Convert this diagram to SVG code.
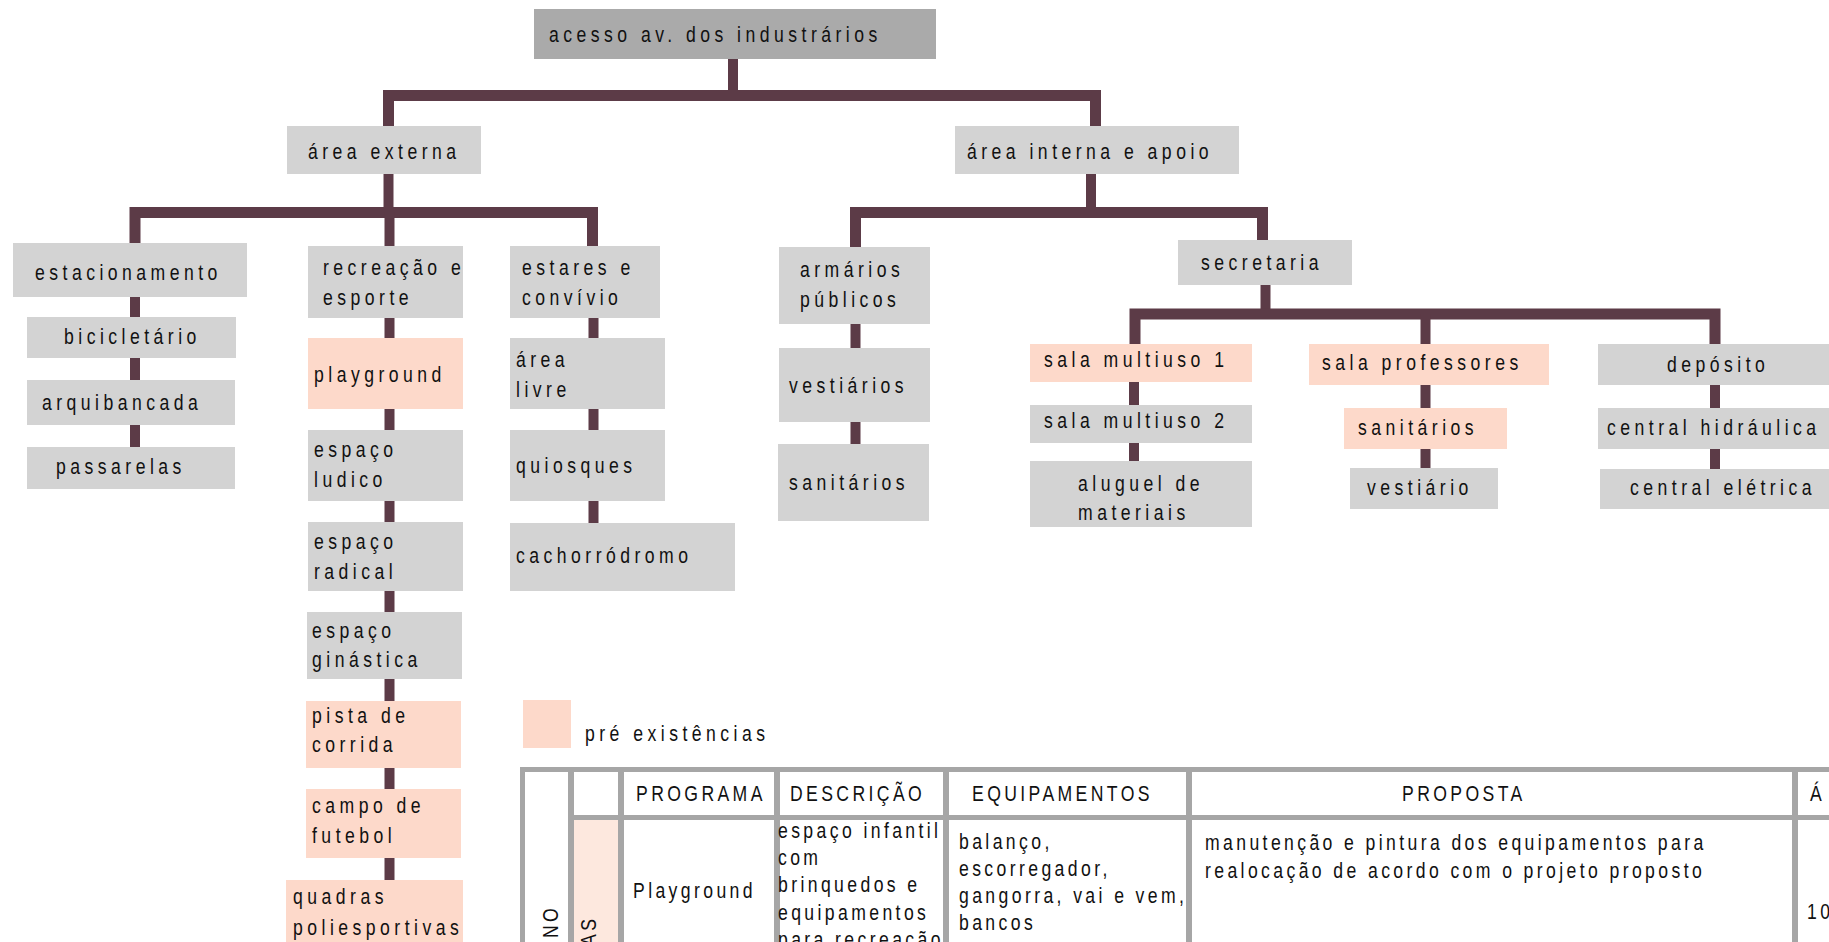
<svg xmlns="http://www.w3.org/2000/svg" width="1829" height="942" viewBox="0 0 1829 942">
<style>
text{font-family:"Liberation Sans",Arial,sans-serif;fill:#111}
.t{font-size:22px;letter-spacing:5.6px}
.s{font-size:22px;letter-spacing:4.25px}
.g{fill:#d3d3d3}
.p{fill:#fdd9ca}
.d{fill:#aaaaaa}
.c{stroke:#5c3b47;stroke-width:10;fill:none}
.b{stroke:#5c3b47;stroke-width:11;fill:none}
.tb{fill:#a6a6a6}
</style>
<rect width="1829" height="942" fill="#ffffff"/>
<g id="connectors">
<path class="c" d="M733,59 V92"/>
<path class="b" d="M388.5,126 V95.5 H1095.5 V126"/>
<path class="c" d="M388.5,174 V208"/>
<path class="b" d="M135,243 V212.5 H592.5 V246"/>
<path class="c" d="M389.5,212 V246"/>
<path class="c" d="M135,297 V317 M135,358 V380 M135,425 V447"/>
<path class="c" d="M389.5,318 V338 M389.5,409 V430 M389.5,501 V522 M389.5,591 V612 M389.5,679 V701 M389.5,768 V789 M389.5,858 V880"/>
<path class="c" d="M593.5,318 V338 M593.5,409 V430 M593.5,501 V523"/>
<path class="c" d="M1091,174 V208"/>
<path class="b" d="M855.5,247 V212.5 H1262.5 V240"/>
<path class="c" d="M855.5,324 V348 M855.5,422 V444"/>
<path class="c" d="M1265.5,285 V310"/>
<path class="b" d="M1135,344 V314 H1715 V344"/>
<path class="c" d="M1425.5,314 V344"/>
<path class="c" d="M1134,382 V405 M1134,443 V461"/>
<path class="c" d="M1425.5,385 V408 M1425.5,449 V468"/>
<path class="c" d="M1715,385 V408 M1715,449 V469"/>
</g>
<g id="n-acesso"><rect class="d" x="534" y="9" width="402" height="50"/><text class="t" transform="translate(549,42) scale(0.8,1)">acesso av. dos industrários</text></g>
<g id="n-area-externa"><rect class="g" x="287" y="126" width="194" height="48"/><text class="t" transform="translate(308,159) scale(0.8,1)">área externa</text></g>
<g id="n-area-interna"><rect class="g" x="955" y="126" width="284" height="48"/><text class="t" transform="translate(967,159) scale(0.8,1)">área interna e apoio</text></g>
<g id="n-estacionamento"><rect class="g" x="13" y="243" width="234" height="54"/><text class="t" transform="translate(35,280) scale(0.8,1)">estacionamento</text></g>
<g id="n-bicicletario"><rect class="g" x="27" y="317" width="209" height="41"/><text class="t" transform="translate(64,344) scale(0.8,1)">bicicletário</text></g>
<g id="n-arquibancada"><rect class="g" x="27" y="380" width="208" height="45"/><text class="t" transform="translate(42,410) scale(0.8,1)">arquibancada</text></g>
<g id="n-passarelas"><rect class="g" x="27" y="447" width="208" height="42"/><text class="t" transform="translate(56,474) scale(0.8,1)">passarelas</text></g>
<g id="n-recreacao"><rect class="g" x="308" y="246" width="155" height="72"/><text class="t" transform="translate(323,275) scale(0.8,1)">recreação e</text><text class="t" transform="translate(323,305) scale(0.8,1)">esporte</text></g>
<g id="n-playground"><rect class="p" x="308" y="338" width="155" height="71"/><text class="t" transform="translate(314,382) scale(0.8,1)">playground</text></g>
<g id="n-ludico"><rect class="g" x="308" y="430" width="155" height="71"/><text class="t" transform="translate(314,457) scale(0.8,1)">espaço</text><text class="t" transform="translate(314,487) scale(0.8,1)">ludico</text></g>
<g id="n-radical"><rect class="g" x="308" y="522" width="155" height="69"/><text class="t" transform="translate(314,549) scale(0.8,1)">espaço</text><text class="t" transform="translate(314,579) scale(0.8,1)">radical</text></g>
<g id="n-ginastica"><rect class="g" x="307" y="612" width="155" height="67"/><text class="t" transform="translate(312,638) scale(0.8,1)">espaço</text><text class="t" transform="translate(312,667) scale(0.8,1)">ginástica</text></g>
<g id="n-pista"><rect class="p" x="306" y="701" width="155" height="67"/><text class="t" transform="translate(312,723) scale(0.8,1)">pista de</text><text class="t" transform="translate(312,752) scale(0.8,1)">corrida</text></g>
<g id="n-campo"><rect class="p" x="306" y="789" width="155" height="69"/><text class="t" transform="translate(312,813) scale(0.8,1)">campo de</text><text class="t" transform="translate(312,843) scale(0.8,1)">futebol</text></g>
<g id="n-quadras"><rect class="p" x="286" y="880" width="177" height="70"/><text class="t" transform="translate(293,904) scale(0.8,1)">quadras</text><text class="t" transform="translate(293,935) scale(0.8,1)">poliesportivas</text></g>
<g id="n-estares"><rect class="g" x="510" y="246" width="150" height="72"/><text class="t" transform="translate(522,275) scale(0.8,1)">estares e</text><text class="t" transform="translate(522,305) scale(0.8,1)">convívio</text></g>
<g id="n-area-livre"><rect class="g" x="510" y="338" width="155" height="71"/><text class="t" transform="translate(516,367) scale(0.8,1)">área</text><text class="t" transform="translate(516,397) scale(0.8,1)">livre</text></g>
<g id="n-quiosques"><rect class="g" x="510" y="430" width="155" height="71"/><text class="t" transform="translate(516,473) scale(0.8,1)">quiosques</text></g>
<g id="n-cachorrodromo"><rect class="g" x="510" y="523" width="225" height="68"/><text class="t" transform="translate(516,563) scale(0.8,1)">cachorródromo</text></g>
<g id="n-armarios"><rect class="g" x="779" y="247" width="151" height="77"/><text class="t" transform="translate(800,277) scale(0.8,1)">armários</text><text class="t" transform="translate(800,307) scale(0.8,1)">públicos</text></g>
<g id="n-vestiarios"><rect class="g" x="779" y="348" width="151" height="74"/><text class="t" transform="translate(789,393) scale(0.8,1)">vestiários</text></g>
<g id="n-sanitarios"><rect class="g" x="778" y="444" width="151" height="77"/><text class="t" transform="translate(789,490) scale(0.8,1)">sanitários</text></g>
<g id="n-secretaria"><rect class="g" x="1178" y="240" width="174" height="45"/><text class="t" transform="translate(1201,270) scale(0.8,1)">secretaria</text></g>
<g id="n-multiuso1"><rect class="p" x="1030" y="344" width="222" height="38"/><text class="t" transform="translate(1044,367) scale(0.8,1)">sala multiuso 1</text></g>
<g id="n-multiuso2"><rect class="g" x="1030" y="405" width="222" height="38"/><text class="t" transform="translate(1044,428) scale(0.8,1)">sala multiuso 2</text></g>
<g id="n-aluguel"><rect class="g" x="1030" y="461" width="222" height="66"/><text class="t" transform="translate(1078,491) scale(0.8,1)">aluguel de</text><text class="t" transform="translate(1078,520) scale(0.8,1)">materiais</text></g>
<g id="n-professores"><rect class="p" x="1309" y="344" width="240" height="41"/><text class="t" transform="translate(1322,370) scale(0.8,1)">sala professores</text></g>
<g id="n-sanitarios2"><rect class="p" x="1344" y="408" width="163" height="41"/><text class="t" transform="translate(1358,435) scale(0.8,1)">sanitários</text></g>
<g id="n-vestiario"><rect class="g" x="1350" y="468" width="148" height="41"/><text class="t" transform="translate(1367,495) scale(0.8,1)">vestiário</text></g>
<g id="n-deposito"><rect class="g" x="1598" y="344" width="240" height="41"/><text class="t" transform="translate(1667,372) scale(0.8,1)">depósito</text></g>
<g id="n-hidraulica"><rect class="g" x="1598" y="408" width="240" height="41"/><text class="t" transform="translate(1607,435) scale(0.8,1)">central hidráulica</text></g>
<g id="n-eletrica"><rect class="g" x="1600" y="469" width="240" height="40"/><text class="t" transform="translate(1630,495) scale(0.8,1)">central elétrica</text></g>
<g id="legend"><rect class="p" x="523" y="700" width="48" height="48"/><text class="t" transform="translate(585,741) scale(0.8,1)">pré existências</text></g>
<g id="table">
<rect x="574" y="820" width="44" height="130" fill="#fde8de"/>
<rect class="tb" x="520" y="767" width="1320" height="5"/>
<rect class="tb" x="520" y="767" width="5" height="180"/>
<rect class="tb" x="568" y="815" width="1272" height="5"/>
<rect class="tb" x="568" y="767" width="6" height="180"/>
<rect class="tb" x="618" y="767" width="6" height="180"/>
<rect class="tb" x="774" y="767" width="6" height="180"/>
<rect class="tb" x="943" y="767" width="6" height="180"/>
<rect class="tb" x="1186" y="767" width="6" height="180"/>
<rect class="tb" x="1792" y="767" width="6" height="180"/>
<text class="s" transform="translate(636,801) scale(0.8,1)">PROGRAMA</text>
<text class="s" transform="translate(790,801) scale(0.8,1)">DESCRIÇÃO</text>
<text class="s" transform="translate(972,801) scale(0.8,1)">EQUIPAMENTOS</text>
<text class="s" transform="translate(1402,801) scale(0.8,1)">PROPOSTA</text>
<text class="s" transform="translate(1810,801) scale(0.8,1)">Á</text>
<text class="s" transform="translate(558,938) rotate(-90) scale(0.8,1)">NO</text>
<text class="s" transform="translate(596,946) rotate(-90) scale(0.8,1)">AS</text>
<text class="s" transform="translate(633,898) scale(0.8,1)">Playground</text>
<text class="s" transform="translate(778,838) scale(0.8,1)">espaço infantil</text>
<text class="s" transform="translate(778,865) scale(0.8,1)">com</text>
<text class="s" transform="translate(778,892) scale(0.8,1)">brinquedos e</text>
<text class="s" transform="translate(778,920) scale(0.8,1)">equipamentos</text>
<text class="s" transform="translate(778,947) scale(0.8,1)">para recreação</text>
<text class="s" transform="translate(959,849) scale(0.8,1)">balanço,</text>
<text class="s" transform="translate(959,876) scale(0.8,1)">escorregador,</text>
<text class="s" transform="translate(959,903) scale(0.8,1)">gangorra, vai e vem,</text>
<text class="s" transform="translate(959,930) scale(0.8,1)">bancos</text>
<text class="s" transform="translate(1205,850) scale(0.8,1)">manutenção e pintura dos equipamentos para</text>
<text class="s" transform="translate(1205,878) scale(0.8,1)">realocação de acordo com o projeto proposto</text>
<text class="s" transform="translate(1807,919) scale(0.8,1)">10</text>
</g>
</svg>
